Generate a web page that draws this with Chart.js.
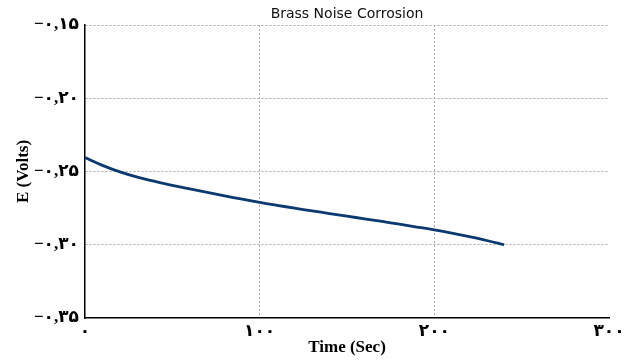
<!DOCTYPE html>
<html>
<head>
<meta charset="utf-8">
<script src="https://cdn.jsdelivr.net/npm/chart.js@4/dist/chart.umd.min.js"></script>
<style>
  html, body { margin: 0; padding: 0; background: #fff; }
  #wrap { width: 633px; height: 360px; }
</style>
</head>
<body>
<div id="wrap"><canvas id="chart"></canvas></div>
<script>
const timeSec = [0, 10, 20, 30, 40, 50, 60, 70, 80, 90, 100, 110, 120, 130, 140, 150, 160, 170, 180, 190, 200, 210, 220, 230, 240];
const voltage = [-0.2405, -0.2458, -0.2503, -0.2539, -0.2568, -0.2595, -0.2619, -0.2643, -0.2666, -0.2689, -0.2711,
  -0.2731, -0.2750, -0.2769, -0.2787, -0.2805, -0.2823, -0.2841, -0.2860, -0.2879, -0.2899, -0.2921, -0.2945, -0.2971, -0.3000];

const xTickValues = [0, 100, 200, 300];
const xTickLabels = ['۰', '۱۰۰', '۲۰۰', '۳۰۰'];
const yTickValues = [-0.35, -0.30, -0.25, -0.20, -0.15];
const yTickLabels = ['−۰,۳۵', '−۰,۳۰', '−۰,۲۵', '−۰,۲۰', '−۰,۱۵'];

const tickFont = { family: "'Liberation Serif', 'DejaVu Sans', serif", size: 17, weight: 'bold' };
const axisTitleFont = { family: "'Liberation Serif', serif", size: 17, weight: 'bold', lineHeight: 1.2 };

new Chart(document.getElementById('chart'), {
  type: 'line',
  data: {
    datasets: [{
      data: timeSec.map((t, i) => ({ x: t, y: voltage[i] })),
      borderColor: '#0c3a70',
      borderWidth: 2.8,
      pointRadius: 0,
      tension: 0.4,
      fill: false
    }]
  },
  options: {
    responsive: true,
    maintainAspectRatio: false,
    animation: false,
    layout: { padding: { left: 0, right: 24, top: 0, bottom: 0 } },
    plugins: {
      legend: { display: false },
      tooltip: { enabled: false },
      title: {
        display: true,
        text: 'Brass Noise Corrosion',
        fullSize: false,
        color: '#111',
        font: { family: "'DejaVu Sans', sans-serif", size: 14, weight: 'normal', lineHeight: 1.2 },
        padding: { top: 6, bottom: 2.2 }
      }
    },
    scales: {
      x: {
        type: 'linear',
        min: 0,
        max: 300,
        afterBuildTicks: s => { s.ticks = xTickValues.map(v => ({ value: v })); },
        afterFit: s => { s.height = 42; },
        ticks: {
          color: '#000',
          font: tickFont,
          padding: 3,
          maxRotation: 0,
          callback: (v, i) => xTickLabels[i]
        },
        grid: {
          drawTicks: false,
          color: ctx => (ctx.tick && (ctx.tick.value === 0 || ctx.tick.value === 300)) ? 'rgba(0,0,0,0)' : '#a8a8a8',
          lineWidth: 1
        },
        border: { display: true, color: '#000', width: 1.5, dash: [2, 2] },
        title: {
          display: true,
          text: 'Time (Sec)',
          color: '#000',
          font: axisTitleFont,
          padding: { top: 0, bottom: 2 }
        }
      },
      y: {
        type: 'linear',
        min: -0.35,
        max: -0.15,
        afterBuildTicks: s => { s.ticks = yTickValues.map(v => ({ value: v })); },
        afterFit: s => { s.width = 85; },
        ticks: {
          color: '#000',
          font: tickFont,
          padding: 6,
          callback: (v, i) => yTickLabels[i]
        },
        grid: {
          drawTicks: false,
          color: ctx => (ctx.tick && Math.abs(ctx.tick.value + 0.35) < 1e-6) ? 'rgba(0,0,0,0)' : '#a8a8a8',
          lineWidth: 1
        },
        border: { display: true, color: '#000', width: 1.5, dash: [2, 2] },
        title: {
          display: true,
          text: 'E (Volts)',
          color: '#000',
          font: axisTitleFont,
          padding: { top: 13, bottom: 0 }
        }
      }
    }
  }
});
</script>
</body>
</html>
